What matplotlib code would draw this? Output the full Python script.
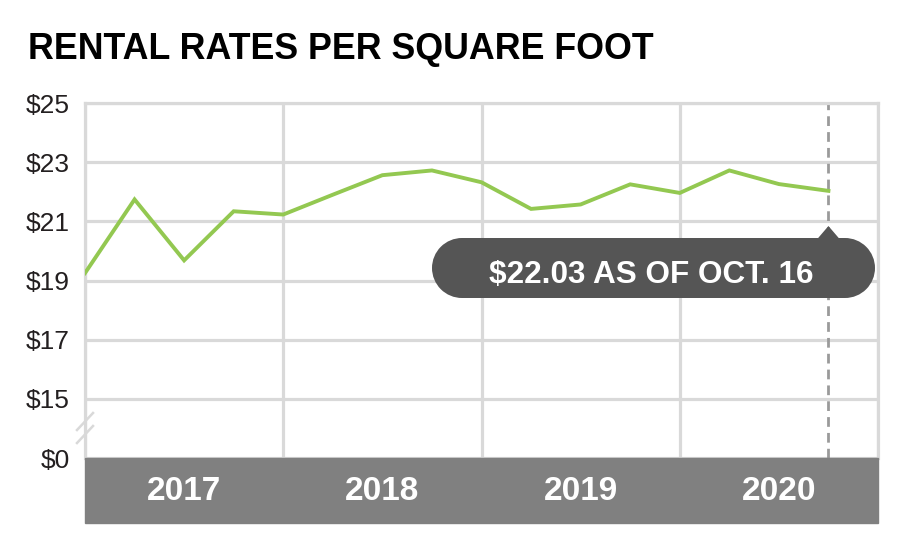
import matplotlib
matplotlib.use('Agg')
import matplotlib.pyplot as plt
from matplotlib.patches import Circle, Polygon, Rectangle
from matplotlib.transforms import IdentityTransform, blended_transform_factory

# Quarterly rental rates, $ per square foot
periods = [2017.0, 2017.25, 2017.5, 2017.75,
           2018.0, 2018.25, 2018.5, 2018.75,
           2019.0, 2019.25, 2019.5, 2019.75,
           2020.0, 2020.25, 2020.5, 2020.75]
rates = [19.25, 21.74, 19.68, 21.34,
         21.23, 21.90, 22.56, 22.72,
         22.32, 21.42, 21.57, 22.25,
         21.96, 22.72, 22.26, 22.03]
years = [2017, 2018, 2019, 2020]
# axis is broken: the $0 line sits where $13 would be
y_ticks = [13, 15, 17, 19, 21, 23, 25]
y_labels = ['$0', '$15', '$17', '$19', '$21', '$23', '$25']
as_of = 'OCT. 16'

W, H = 900, 558
GREEN = '#93c851'
GRID = '#d9d9d9'
BAND = '#808080'
PILL = '#555555'
FONT = ['Liberation Sans', 'DejaVu Sans']

fig = plt.figure(figsize=(W / 100, H / 100), dpi=100)
ax = fig.add_axes([85 / W, 1 - 458 / H, (878 - 85) / W, (458 - 103) / H])

def fit_width(t, width):
    fig.canvas.draw()
    w = t.get_window_extent().width
    t.set_fontsize(t.get_fontsize() * width / w)

ax.plot(periods, rates, color=GREEN, lw=2.8, solid_joinstyle='miter', zorder=3)

ax.set_xlim(years[0], years[-1] + 1)
ax.set_ylim(y_ticks[0], y_ticks[-1])
ax.set_xticks(years + [years[-1] + 1])
ax.set_xticklabels([])
ax.set_yticks(y_ticks)
ax.set_yticklabels(y_labels, fontsize=19, family=FONT, color='#231f20')
ax.tick_params(length=0, axis='both')
ax.tick_params(axis='y', pad=11)
ax.grid(True, color=GRID, lw=2.3, zorder=0)
for side in ['top', 'left', 'right']:
    ax.spines[side].set_color(GRID)
    ax.spines[side].set_linewidth(2.3)
ax.spines['bottom'].set_visible(False)

# last reading marker line
ax.axvline(periods[-1], color='#9a9a9a', lw=2.0, linestyle=(0, (3.5, 2.2)), zorder=2)

# year band under the axis
band_h = 65 / (458 - 103)
ax.add_patch(Rectangle((0, -band_h), 1, band_h, transform=ax.transAxes,
                       color=BAND, clip_on=False, zorder=4))
xt = blended_transform_factory(ax.transData, ax.transAxes)
for yr in years:
    ax.text(yr + 0.5, -band_h / 2 - 0.003, str(yr), transform=xt, ha='center', va='center',
            color='white', fontsize=24, fontweight='bold', family=FONT, zorder=5)

# axis break marks
for dy in [0, 13]:
    ax.add_line(plt.Line2D([77, 93], [H - 430 - dy, H - 413 - dy], transform=IdentityTransform(),
                           color=GRID, lw=1.8, clip_on=False))

# callout for the latest value: pill = rectangle + two round ends
tip_x = ax.transData.transform((periods[-1], 0))[0]
px = IdentityTransform()
r = 30
left, right, mid = 432 + r, 875 - r, H - 268
fig.patches.append(Rectangle((left, mid - r), right - left, 2 * r, transform=px,
                             facecolor=PILL, edgecolor='none', zorder=6))
for cx in [left, right]:
    fig.patches.append(Circle((cx, mid), r, transform=px, facecolor=PILL, edgecolor='none', zorder=6))
fig.patches.append(Polygon([(tip_x - 12, H - 240), (tip_x + 12, H - 240), (tip_x, H - 226)],
                           closed=True, transform=px, facecolor=PILL, edgecolor='none', zorder=6))
note = fig.text(651 / W, 1 - 283 / H, f'${rates[-1]:.2f} AS OF {as_of}', ha='center', va='baseline',
                color='white', fontsize=22, fontweight='bold', family=FONT, zorder=7)
fit_width(note, 325)

title = fig.text(28 / W, 1 - 59 / H, 'RENTAL RATES PER SQUARE FOOT', ha='left', va='baseline',
                 color='black', fontsize=28, fontweight='bold', family=FONT)
fit_width(title, 625)

fig.savefig('out.png', dpi=100, facecolor='white')
